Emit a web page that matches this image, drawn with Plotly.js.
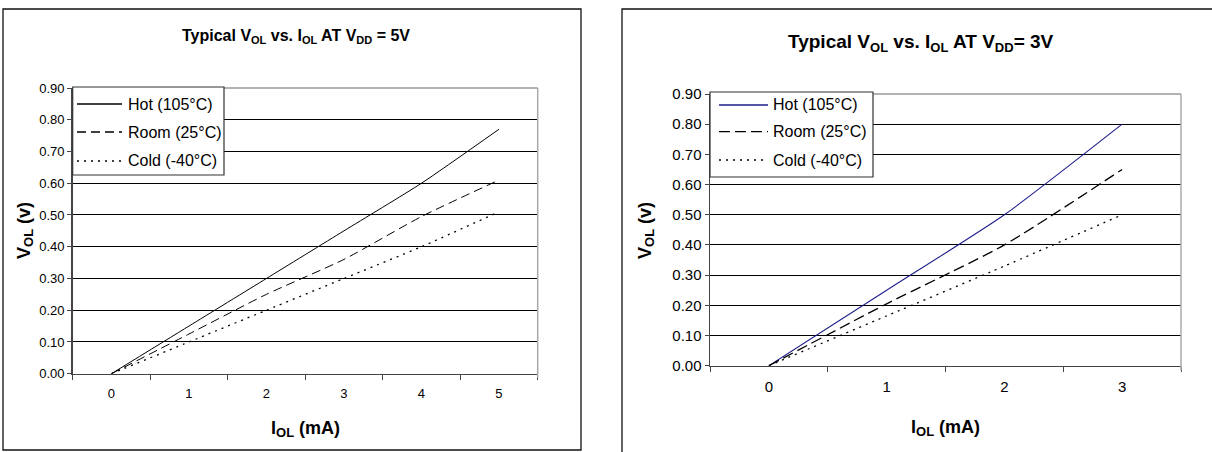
<!DOCTYPE html>
<html><head><meta charset="utf-8">
<script src="https://cdn.plot.ly/plotly-3.0.1.min.js"></script>
<style>html,body{margin:0;padding:0;background:#fff;} #chart{width:1212px;height:452px;}</style>
</head><body><div id="chart"></div>
<script>
// ---- data ----
const currentLeft = [0, 1, 2, 3, 4, 5];
const hotLeft  = [0, 0.15, 0.30, 0.45, 0.60, 0.77];
const roomLeft = [0, 0.125, 0.25, 0.36, 0.495, 0.61];
const coldLeft = [0, 0.10, 0.20, 0.30, 0.40, 0.51];

const currentRight = [0, 1, 2, 3];
const hotRight  = [0, 0.25, 0.50, 0.80];
const roomRight = [0, 0.205, 0.40, 0.65];
const coldRight = [0, 0.165, 0.33, 0.50];

const seriesNames = ["Hot (105°C)", "Room (25°C)", "Cold (-40°C)"];
const yTickVals = [0, 0.1, 0.2, 0.3, 0.4, 0.5, 0.6, 0.7, 0.8, 0.9];

// subscript rendered as a smaller, shifted span (explicit size)
const sub = (t, size, shift) => '<span style="font-size:' + size + 'px;baseline-shift:-' + shift + 'px">' + t + '</span>';
const titleLeft = "Typical V" + sub("OL", 11, 3) + " vs. I" + sub("OL", 11, 3) + " AT V" + sub("DD", 11, 3) + " = 5V";
const titleRight = "Typical V" + sub("OL", 13, 4) + " vs. I" + sub("OL", 13, 4) + " AT V" + sub("DD", 13, 4) + "= 3V";
const yTitle = "V" + sub("OL", 13, 3) + " (v)";
const xTitle = "I" + sub("OL", 13, 3) + " (mA)";

// ---- layout helpers ----
const W = 1212, H = 452;
const px = x => x / W;
const py = y => 1 - y / H;
const FONT = "Liberation Sans, Arial, Helvetica, sans-serif";

const styleL = [
  {color: "#000", width: 1, dash: "solid"},
  {color: "#000", width: 1, dash: "9px,5px"},
  {color: "#000", width: 1.3, dash: "2px,5px"}
];
const styleR = [
  {color: "#1e1e8c", width: 1.1, dash: "solid"},
  {color: "#000", width: 1.3, dash: "11px,5px"},
  {color: "#000", width: 1.3, dash: "2px,5px"}
];

function mk(x, y, i, st, xa, ya) {
  return {x: x, y: y, type: "scatter", mode: "lines", name: seriesNames[i],
    line: Object.assign({shape: "spline", smoothing: 0.6}, st[i]),
    xaxis: xa, yaxis: ya, showlegend: false, hoverinfo: "skip"};
}

const traces = [
  mk(currentLeft, hotLeft, 0, styleL, "x", "y"),
  mk(currentLeft, roomLeft, 1, styleL, "x", "y"),
  mk(currentLeft, coldLeft, 2, styleL, "x", "y"),
  mk(currentRight, hotRight, 0, styleR, "x2", "y2"),
  mk(currentRight, roomRight, 1, styleR, "x2", "y2"),
  mk(currentRight, coldRight, 2, styleR, "x2", "y2")
];

const L = {x0: 72.7, x1: 537.7, y0: 88, y1: 373.7};
const R = {x0: 710, x1: 1181, y0: 94, y1: 365.7};

function xax(b, cats, fs, anchor) {
  const n = cats.length;
  const bounds = [];
  for (let i = 0; i <= n; i++) bounds.push(cats[0] - 0.5 + i);
  return {domain: [px(b.x0), px(b.x1)], type: "linear", range: [cats[0] - 0.5, cats[n - 1] + 0.5],
    tickmode: "array", tickvals: cats, ticktext: cats.map(String), ticks: "",
    minor: {tickmode: "array", tickvals: bounds, ticks: "outside", ticklen: 5, tickcolor: "#444", tickwidth: 1, showgrid: false},
    showline: true, linecolor: "#444", linewidth: 1.5, showgrid: false, zeroline: false, anchor: anchor,
    tickfont: {family: FONT, size: fs, color: "#000"}, ticklabelstandoff: 7, fixedrange: true};
}
function yax(b, fs, anchor) {
  return {domain: [py(b.y1), py(b.y0)], range: [0, 0.9], tickvals: yTickVals, tickformat: ".2f",
    ticks: "outside", ticklen: 4, tickcolor: "#444", showline: true, linecolor: "#444", linewidth: 1.5,
    showgrid: true, gridcolor: "#000", gridwidth: 1, zeroline: false, anchor: anchor,
    tickfont: {family: FONT, size: fs, color: "#000"}, fixedrange: true};
}

const shapes = [];
const ann = [];
function line(x0, y0, x1, y1, color, width, dash) {
  shapes.push({type: "line", xref: "paper", yref: "paper", x0: px(x0), y0: py(y0), x1: px(x1), y1: py(y1),
    line: {color: color, width: width, dash: dash || "solid"}});
}
function rect(x0, y0, x1, y1, color, width) {
  shapes.push({type: "rect", xref: "paper", yref: "paper", x0: px(x0), y0: py(y0), x1: px(x1), y1: py(y1),
    line: {color: color, width: width}, fillcolor: "rgba(0,0,0,0)"});
}
function text(t, x, y, size, opts, bold) {
  ann.push(Object.assign({text: t, xref: "paper", yref: "paper", x: px(x), y: py(y), showarrow: false,
    xanchor: "center", yanchor: "middle",
    font: {family: FONT, size: size, color: "#000", weight: bold ? "bold" : "normal"}}, opts || {}));
}

// frames
rect(3, 9, 581, 450, "#111", 1.3);
rect(622, 9, 1240, 480, "#111", 1.3);
// plot borders (top / right)
line(L.x0, L.y0, L.x1, L.y0, "#999", 1.5);
line(L.x1, L.y0, L.x1, L.y1 + 4, "#aaa", 1.5);
line(R.x0, R.y0, R.x1, R.y0, "#999", 1.5);
line(R.x1, R.y0, R.x1, R.y1 + 5, "#aaa", 1.5);

// legends
function legend(box, rows, lx0, lx1, tx, st, fs) {
  shapes.push({type: "rect", xref: "paper", yref: "paper", x0: px(box[0]), y0: py(box[1]), x1: px(box[2]), y1: py(box[3]),
    line: {color: "#333", width: 1.2}, fillcolor: "#fff"});
  rows.forEach((ry, i) => {
    line(lx0, ry, lx1, ry, st[i].color, Math.max(st[i].width, 1.3), st[i].dash);
    text(seriesNames[i], tx, ry, fs, {xanchor: "left"}, false);
  });
}
legend([72.7, 87, 224, 175], [104, 132, 161], 77, 122, 126, styleL, 16);
legend([710, 92, 873, 177], [105, 131.7, 160], 719, 768, 771, styleR, 16);

// titles
text(titleLeft, 296, 37, 16, {}, true);
text(titleRight, 921, 43, 19, {}, true);
text(yTitle, 25, 231, 18, {textangle: -90}, true);
text(yTitle, 646, 231, 18, {textangle: -90}, true);
text(xTitle, 305, 429, 18, {}, true);
text(xTitle, 945, 428, 18, {}, true);

const layout = {
  width: W, height: H, margin: {l: 0, r: 0, t: 0, b: 0},
  paper_bgcolor: "#fff", plot_bgcolor: "#fff", showlegend: false,
  xaxis: xax(L, currentLeft, 13, "y"),
  yaxis: yax(L, 13, "x"),
  xaxis2: xax(R, currentRight, 15, "y2"),
  yaxis2: yax(R, 15, "x2"),
  shapes: shapes, annotations: ann
};

Plotly.newPlot("chart", traces, layout, {staticPlot: true, displayModeBar: false});
</script></body></html>
